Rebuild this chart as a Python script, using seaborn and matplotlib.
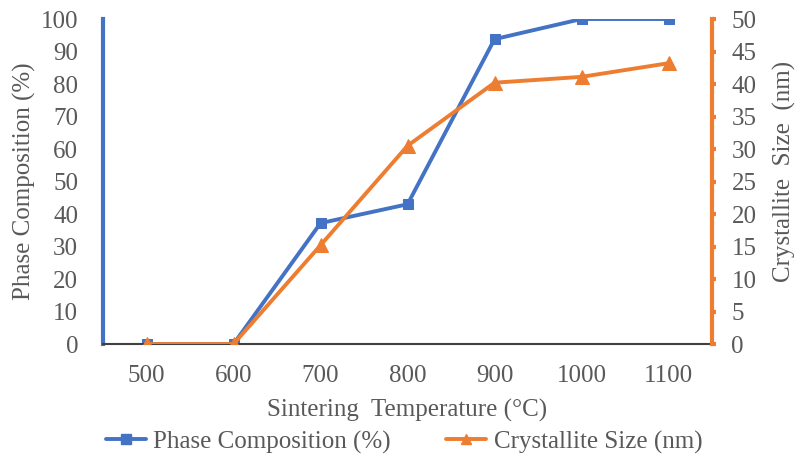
import seaborn as sns
import pandas as pd
import matplotlib.pyplot as plt
from matplotlib.lines import Line2D

temps = ['500', '600', '700', '800', '900', '1000', '1100']
phase = [0, 0, 37.2, 43, 93.8, 100, 100]
size = [0, 0, 15.2, 30.5, 40.2, 41.1, 43.2]

blue = '#4472C4'
orange = '#ED7D31'
gray = '#595959'

sns.set_style('white')
plt.rcParams['font.family'] = ['Liberation Serif', 'DejaVu Serif']
plt.rcParams['font.size'] = 18

df = pd.DataFrame({'Temp': temps, 'Phase': phase, 'Size': size})

fig = plt.figure(figsize=(7.97, 4.59), dpi=100)
ax = fig.add_axes([0.1293, 0.2505, 0.7641, 0.7081])
ax2 = ax.twinx()

sns.lineplot(data=df, x='Temp', y='Phase', ax=ax, color=blue, marker='s',
             markersize=7.5, markeredgecolor=blue, linewidth=2.8, sort=False)
sns.lineplot(data=df, x='Temp', y='Size', ax=ax2, color=orange, marker='^',
             markersize=9.5, markeredgecolor=orange, linewidth=2.8, sort=False)

ax.set_xlim(-0.5, 6.5)
ax.set_ylim(0, 100)
ax.set_yticks(range(0, 101, 10))
ax2.set_ylim(0, 50)
ax2.set_yticks(range(0, 51, 5))

for s in ['top', 'right']:
    ax.spines[s].set_visible(False)
ax.spines['left'].set_color(blue)
ax.spines['left'].set_linewidth(3)
ax.spines['bottom'].set_color('#404040')
ax.spines['bottom'].set_linewidth(1.5)
for s in ['top', 'left', 'bottom']:
    ax2.spines[s].set_visible(False)
ax2.spines['right'].set_color(orange)
ax2.spines['right'].set_linewidth(3)

ax.tick_params(axis='y', length=0, colors=gray, labelsize=18, pad=18)
ax.tick_params(axis='x', length=0, colors=gray, labelsize=18, pad=15)
ax2.tick_params(axis='y', length=3, width=3, color=orange, labelcolor=gray,
                labelsize=18, pad=11)

ax.set_xlabel('Sintering  Temperature (°C)', color=gray, fontsize=18)
ax.set_ylabel('Phase Composition (%)', color=gray, fontsize=18)
ax2.set_ylabel('Crystallite  Size  (nm)', color=gray, fontsize=18)
ax.xaxis.set_label_coords(0.5, -0.17)
ax.yaxis.set_label_coords(-0.11, 0.5)
ax2.yaxis.set_label_coords(1.1, 0.53)

handles = [
    Line2D([], [], color=blue, marker='s', markersize=6.5, linewidth=2.8),
    Line2D([], [], color=orange, marker='^', markersize=7.5, linewidth=2.8),
]
fig.legend(handles, ['Phase Composition (%)', 'Crystallite Size (nm)'],
           loc='center', bbox_to_anchor=(0.507, 0.037), ncol=2, frameon=False,
           fontsize=18, labelcolor=gray, handlelength=1.6, handletextpad=0.3,
           columnspacing=2.2, borderpad=0)

fig.savefig('out.png', dpi=100)
